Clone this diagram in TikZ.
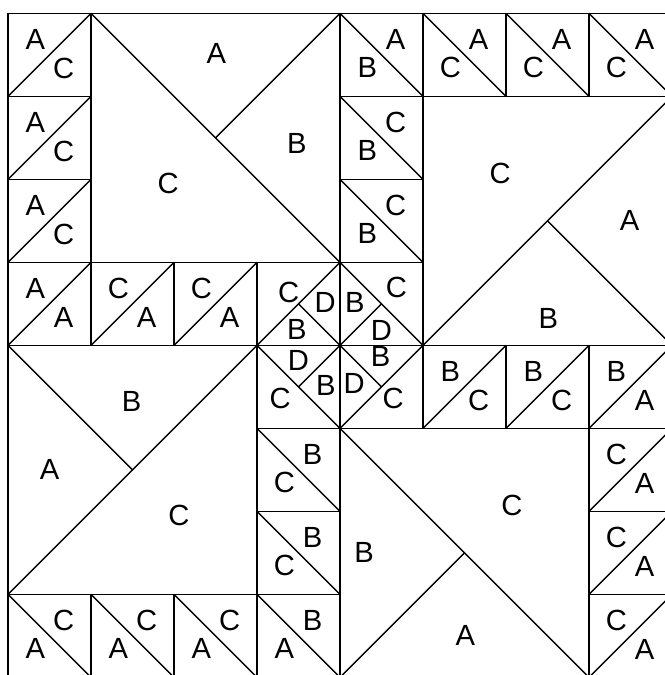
\documentclass[tikz,border=0pt]{standalone}
\usepackage{fontspec}
\setmainfont{Liberation Sans}
\usetikzlibrary{positioning}

\begin{document}
\begin{tikzpicture}[x=1cm,y=-1cm,line width=0.5pt,
    lbl/.style={font=\fontsize{10}{12}\selectfont,inner sep=0pt}]

\clip (-0.0964,-0.1602) rectangle (7.9157,7.9723);

% small squares
\foreach \c/\r in {0/0,0/1,0/2,0/3,1/3,2/3,3/3,4/3,
                   4/0,5/0,6/0,7/0,4/1,4/2,
                   3/4,4/4,5/4,6/4,7/4,7/5,7/6,7/7,
                   3/5,3/6,3/7,0/7,1/7,2/7}{
    \draw (\c,\r) rectangle ++(1,1);
}

% big squares
\draw (1,0) rectangle (4,3);
\draw (5,1) rectangle (8,4);
\draw (0,4) rectangle (3,7);
\draw (4,5) rectangle (7,8);

% half squares, rising diagonal
\foreach \c/\r/\p/\q in {0/0/A/C,0/1/A/C,0/2/A/C,0/3/A/A,1/3/C/A,2/3/C/A,
                         5/4/B/C,6/4/B/C,7/4/B/A,7/5/C/A,7/6/C/A,7/7/C/A}{
    \draw (\c,\r+1) -- (\c+1,\r);
    \node[lbl] (u-\c-\r) at (\c+0.33,\r+0.32) {\p};
    \node[lbl] (v-\c-\r) at (\c+0.67,\r+0.66) {\q};
}

% half squares, falling diagonal
\foreach \c/\r/\p/\q in {4/0/A/B,5/0/A/C,6/0/A/C,7/0/A/C,4/1/C/B,4/2/C/B,
                         3/5/B/C,3/6/B/C,3/7/B/A,0/7/C/A,1/7/C/A,2/7/C/A}{
    \draw (\c,\r) -- (\c+1,\r+1);
    \node[lbl] (u-\c-\r) at (\c+0.67,\r+0.31) {\p};
    \node[lbl] (v-\c-\r) at (\c+0.33,\r+0.65) {\q};
}

% top left block
\draw (1,0) -- (4,3);
\draw (4,0) -- (2.5,1.5);
\node[lbl] (tlA) at (2.51,0.48) {A};
\node[lbl] (tlB) at (3.48,1.57) {B};
\node[lbl] (tlC) at (1.93,2.05) {C};

% top right block
\draw (5,4) -- (8,1);
\draw (6.5,2.5) -- (8,4);
\node[lbl] (trC) at (5.93,1.93) {C};
\node[lbl] (trA) at (7.49,2.49) {A};
\node[lbl] (trB) at (6.51,3.68) {B};

% bottom left block
\draw (0,7) -- (3,4);
\draw (0,4) -- (1.5,5.5);
\node[lbl] (blB) at (1.49,4.68) {B};
\node[lbl] (blA) at (0.50,5.49) {A};
\node[lbl] (blC) at (2.06,6.05) {C};

% bottom right block
\draw (4,5) -- (7,8);
\draw (4,8) -- (5.5,6.5);
\node[lbl] (brC) at (6.07,5.93) {C};
\node[lbl] (brB) at (4.29,6.49) {B};
\node[lbl] (brA) at (5.51,7.49) {A};

% centre
\draw (3,4) -- (4,3) -- (5,4) -- (4,5) -- cycle;
\draw (3.5,3.5) -- (4.5,4.5);
\draw (4.5,3.5) -- (3.5,4.5);
\node[lbl] (c1C) at (3.38,3.36) {C};
\node[lbl] (c1D) at (3.82,3.48) {D};
\node[lbl] (c1B) at (3.48,3.81) {B};
\node[lbl] (c2B) at (4.18,3.48) {B};
\node[lbl] (c2C) at (4.68,3.30) {C};
\node[lbl] (c2D) at (4.50,3.82) {D};
\node[lbl] (c3D) at (3.50,4.18) {D};
\node[lbl] (c3C) at (3.28,4.64) {C};
\node[lbl] (c3B) at (3.83,4.48) {B};
\node[lbl] (c4B) at (4.49,4.14) {B};
\node[lbl] (c4D) at (4.17,4.46) {D};
\node[lbl] (c4C) at (4.64,4.64) {C};

\end{tikzpicture}
\end{document}
